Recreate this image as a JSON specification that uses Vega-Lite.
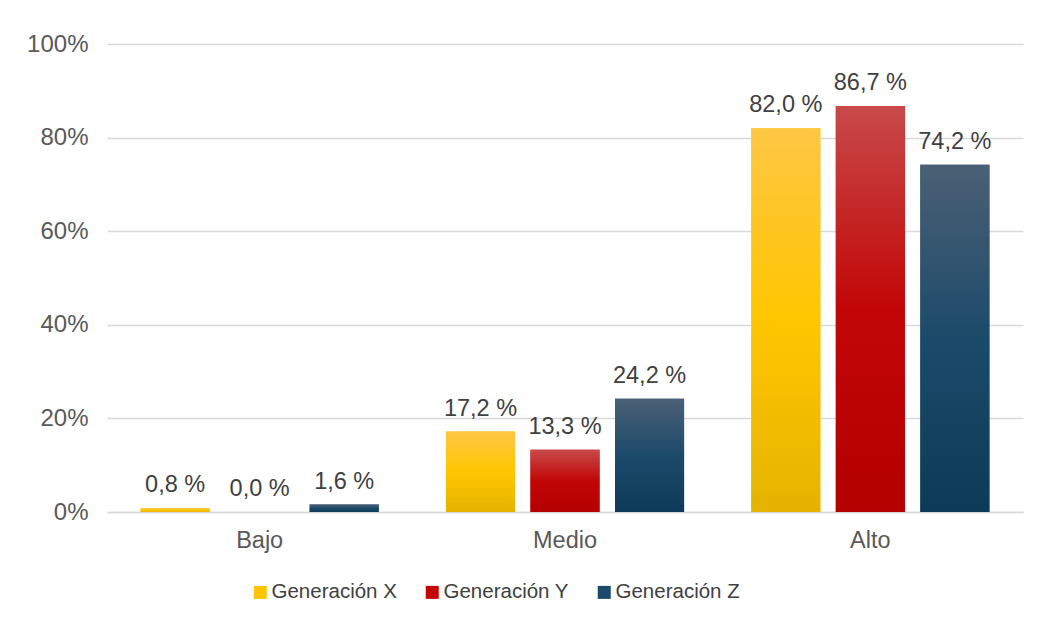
{
  "$schema": "https://vega.github.io/schema/vega-lite/v6.json",
  "autosize": "none",
  "width": 916,
  "height": 468,
  "padding": {"left": 107, "top": 44, "right": 17, "bottom": 108},
  "background": "white",
  "data": {
    "values": [
      {"nivel": "Bajo", "gen": "Generación X", "v": 0.008},
      {"nivel": "Bajo", "gen": "Generación Y", "v": 0.0},
      {"nivel": "Bajo", "gen": "Generación Z", "v": 0.016},
      {"nivel": "Medio", "gen": "Generación X", "v": 0.172},
      {"nivel": "Medio", "gen": "Generación Y", "v": 0.133},
      {"nivel": "Medio", "gen": "Generación Z", "v": 0.242},
      {"nivel": "Alto", "gen": "Generación X", "v": 0.82},
      {"nivel": "Alto", "gen": "Generación Y", "v": 0.867},
      {"nivel": "Alto", "gen": "Generación Z", "v": 0.742}
    ]
  },
  "encoding": {
    "x": {
      "field": "nivel", "type": "nominal", "sort": ["Bajo", "Medio", "Alto"],
      "scale": {"paddingInner": 0.22, "paddingOuter": 0.11},
      "axis": {"title": null, "labelAngle": 0, "ticks": false, "domain": true, "domainColor": "#D9D9D9", "domainWidth": 1.5, "labelPadding": 16, "labelFontSize": 23.5, "labelColor": "#595959", "labelFont": "Liberation Sans"}
    },
    "xOffset": {"field": "gen", "type": "nominal", "sort": ["Generación X", "Generación Y", "Generación Z"], "scale": {"paddingInner": 0.183, "paddingOuter": 0}},
    "y": {
      "field": "v", "type": "quantitative",
      "scale": {"domain": [0, 1], "nice": false},
      "axis": {"title": null, "values": [0, 0.2, 0.4, 0.6, 0.8, 1.0], "format": ".0%", "labelExpr": "replace(datum.label, ' ', '')", "ticks": false, "domain": false, "gridColor": "#D9D9D9", "gridWidth": 1.5, "labelPadding": 19, "labelFontSize": 24, "labelColor": "#595959", "labelFont": "Liberation Sans"}
    }
  },
  "layer": [
    {
      "mark": {"type": "bar"},
      "encoding": {
        "color": {
          "field": "gen", "type": "nominal",
          "scale": {
            "domain": ["Generación X", "Generación Y", "Generación Z"],
            "range": ["#FFC600", "#C20606", "#1C4A6A"]
          },
          "legend": {
            "title": null, "orient": "none", "direction": "horizontal",
            "legendX": 143, "legendY": 538,
            "symbolType": "square", "symbolSize": 169, "symbolStrokeWidth": 0, "symbolOpacity": 1,
            "labelFontSize": 20.5, "labelColor": "#404040", "labelFont": "Liberation Sans",
            "labelOffset": 1, "columnPadding": 25
          }
        }
      }
    },
    {
      "transform": [{"filter": "datum.gen === 'Generación X'"}],
      "mark": {"type": "bar", "color": {"gradient": "linear", "x1": 0, "y1": 0, "x2": 0, "y2": 1, "stops": [{"offset": 0, "color": "#FFC645"}, {"offset": 0.5, "color": "#FFC600"}, {"offset": 1, "color": "#E5B300"}]}}
    },
    {
      "transform": [{"filter": "datum.gen === 'Generación Y'"}],
      "mark": {"type": "bar", "color": {"gradient": "linear", "x1": 0, "y1": 0, "x2": 0, "y2": 1, "stops": [{"offset": 0, "color": "#C84A4A"}, {"offset": 0.5, "color": "#C20606"}, {"offset": 1, "color": "#B40000"}]}}
    },
    {
      "transform": [{"filter": "datum.gen === 'Generación Z'"}],
      "mark": {"type": "bar", "color": {"gradient": "linear", "x1": 0, "y1": 0, "x2": 0, "y2": 1, "stops": [{"offset": 0, "color": "#4B6075"}, {"offset": 0.5, "color": "#1C4A6A"}, {"offset": 1, "color": "#0D3A58"}]}}
    },
    {
      "mark": {"type": "text", "baseline": "alphabetic", "dy": -16, "fontSize": 23.5, "font": "Liberation Sans", "color": "#404040"},
      "encoding": {
        "text": {"field": "v", "type": "quantitative", "format": ".1%"}
      }
    }
  ],
  "config": {
    "view": {"stroke": null},
    "locale": {
      "number": {"decimal": ",", "thousands": ".", "grouping": [3], "currency": ["", " €"], "percent": " %"}
    }
  }
}
